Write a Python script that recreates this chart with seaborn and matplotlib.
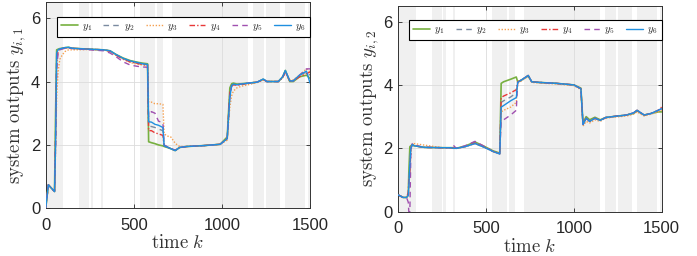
import matplotlib
matplotlib.use('Agg')
import matplotlib.pyplot as plt
import seaborn as sns

# time grid (k) for left panel, y_{i,1}
K1 = [0, 15, 50, 56, 62, 70, 80, 95, 110, 130, 150, 250, 330, 365, 400, 440, 480, 520, 550, 578,
      584, 600, 620, 640, 665, 672, 690, 710, 735, 760, 800, 900, 990, 1030, 1045, 1055, 1065,
      1085, 1110, 1150, 1200, 1235, 1255, 1320, 1345, 1360, 1385, 1405, 1440, 1480, 1500]

Y1_1 = [0, 0.74, 0.53, 3.0, 5.0, 5.02, 5.04, 5.05, 5.07, 5.08, 5.05, 5.02, 5.0, 4.97, 4.85, 4.74, 4.66, 4.61, 4.58, 4.56,
        2.1, 2.07, 2.04, 2.0, 1.97, 1.95, 1.92, 1.88, 1.82, 1.92, 1.95, 1.98, 2.02, 2.25, 3.8, 3.93, 3.95,
        3.92, 3.93, 3.95, 3.98, 4.07, 4.0, 4.0, 4.15, 4.35, 4.0, 4.0, 4.15, 4.2, 4.1]
Y2_1 = [0, 0.74, 0.53, 2.4, 4.8, 5.0, 5.03, 5.05, 5.06, 5.07, 5.05, 5.02, 5.0, 4.96, 4.84, 4.72, 4.63, 4.58, 4.55, 4.53,
        2.6, 2.58, 2.55, 2.5, 2.45, 1.99, 1.94, 1.89, 1.83, 1.92, 1.95, 1.98, 2.02, 2.2, 3.6, 3.85, 3.9,
        3.9, 3.92, 3.95, 3.98, 4.08, 4.0, 4.0, 4.15, 4.33, 4.02, 4.02, 4.2, 4.3, 4.2]
Y3_1 = [0, 0.74, 0.53, 1.8, 3.5, 4.3, 4.7, 4.85, 4.95, 5.0, 5.0, 5.01, 4.99, 4.95, 4.82, 4.7, 4.6, 4.55, 4.52, 4.5,
        3.35, 3.35, 3.3, 3.3, 3.28, 2.35, 2.28, 2.25, 2.05, 1.95, 1.95, 1.98, 2.02, 2.15, 3.2, 3.55, 3.7,
        3.8, 3.85, 3.9, 3.97, 4.05, 4.02, 4.0, 4.12, 4.3, 4.05, 4.05, 4.2, 4.4, 4.3]
Y4_1 = [0, 0.74, 0.53, 2.2, 4.6, 4.95, 5.02, 5.04, 5.06, 5.07, 5.05, 5.02, 5.0, 4.96, 4.83, 4.71, 4.62, 4.57, 4.54, 4.52,
        2.45, 2.45, 2.38, 2.35, 2.3, 1.98, 1.93, 1.88, 1.83, 1.92, 1.95, 1.98, 2.02, 2.2, 3.65, 3.88, 3.9,
        3.88, 3.9, 3.95, 3.98, 4.06, 4.0, 4.0, 4.12, 4.3, 4.02, 4.02, 4.15, 4.25, 4.3]
Y5_1 = [0, 0.74, 0.53, 2.0, 4.4, 4.9, 5.0, 5.03, 5.05, 5.06, 5.04, 5.0, 4.97, 4.9, 4.78, 4.62, 4.52, 4.48, 4.46, 4.45,
        2.9, 3.05, 3.0, 2.75, 2.7, 2.0, 1.94, 1.89, 1.83, 1.92, 1.95, 1.98, 2.02, 2.2, 3.55, 3.85, 3.9,
        3.9, 3.92, 3.95, 3.98, 4.07, 4.0, 4.0, 4.15, 4.33, 4.02, 4.02, 4.2, 4.4, 4.4]
Y6_1 = [0, 0.74, 0.53, 2.0, 4.9, 5.0, 5.03, 5.05, 5.07, 5.08, 5.05, 5.02, 5.0, 4.97, 4.85, 4.73, 4.65, 4.6, 4.56, 4.54,
        2.73, 2.72, 2.65, 2.62, 2.55, 1.97, 1.93, 1.88, 1.82, 1.92, 1.95, 1.98, 2.02, 2.2, 3.5, 3.88, 3.92,
        3.9, 3.92, 3.95, 3.98, 4.08, 4.0, 4.0, 4.15, 4.35, 4.02, 4.02, 4.2, 4.33, 3.95]

# time grid (k) for right panel, y_{i,2}
K2 = [0, 10, 28, 47, 57, 60, 66, 72, 80, 90, 150, 250, 300, 313, 330, 380, 437, 494, 540, 578,
      586, 600, 640, 672, 680, 700, 740, 760, 800, 900, 1000, 1040, 1052, 1070, 1090, 1120, 1150,
      1180, 1220, 1300, 1340, 1360, 1400, 1440, 1480, 1500]

Y1_2 = [0.53, 0.5, 0.45, 0.45, 0.52, 1.2, 2.05, 2.08, 2.12, 2.08, 2.03, 2.02, 2.02, 2.02, 2.0, 2.07, 2.2, 2.05, 1.92, 1.85,
        4.05, 4.1, 4.18, 4.25, 4.1, 4.15, 4.28, 4.1, 4.08, 4.05, 4.0, 3.9, 2.8, 3.0, 2.9, 2.98, 2.9,
        2.97, 3.0, 3.05, 3.1, 3.18, 3.05, 3.1, 3.15, 3.15]
Y2_2 = [0.53, 0.5, 0.45, 0.45, 0.52, 0.9, 1.6, 2.02, 2.12, 2.08, 2.03, 2.02, 2.02, 2.0, 2.0, 2.05, 2.17, 2.03, 1.9, 1.83,
        3.45, 3.5, 3.62, 3.75, 4.08, 4.15, 4.3, 4.1, 4.08, 4.05, 4.0, 3.88, 2.75, 2.95, 2.85, 2.95, 2.88,
        2.97, 3.0, 3.05, 3.12, 3.2, 3.05, 3.1, 3.2, 3.25]
Y3_2 = [0.53, 0.5, 0.45, 0.45, 0.52, 0.7, 1.3, 1.95, 2.1, 2.15, 2.1, 2.02, 2.02, 2.0, 2.0, 2.05, 2.15, 2.02, 1.9, 1.83,
        3.15, 3.2, 3.3, 3.45, 4.05, 4.12, 4.28, 4.08, 4.06, 4.03, 3.98, 3.85, 2.7, 2.85, 2.8, 2.9, 2.85,
        2.95, 2.98, 3.02, 3.08, 3.15, 3.02, 3.08, 3.15, 3.2]
Y4_2 = [0.53, 0.5, 0.45, 0.45, 0.6, 1.0, 1.2, 2.0, 2.12, 2.08, 2.03, 2.02, 2.02, 2.0, 2.0, 2.05, 2.16, 2.03, 1.9, 1.83,
        3.6, 3.65, 3.75, 3.85, 4.1, 4.15, 4.3, 4.1, 4.08, 4.05, 4.0, 3.88, 2.75, 2.95, 2.85, 2.95, 2.88,
        2.97, 3.0, 3.05, 3.12, 3.2, 3.05, 3.1, 3.2, 3.3]
Y5_2 = [0.53, 0.5, 0.45, 0.45, 0.3, 0.0, 0.0, 2.0, 2.15, 2.1, 2.03, 2.02, 2.02, 2.1, 2.0, 2.08, 2.22, 2.05, 1.9, 1.83,
        2.85, 2.9, 3.05, 3.2, 4.08, 4.15, 4.3, 4.1, 4.08, 4.05, 4.0, 3.88, 2.75, 2.95, 2.85, 2.95, 2.88,
        2.97, 3.0, 3.05, 3.12, 3.2, 3.05, 3.1, 3.2, 3.25]
Y6_2 = [0.53, 0.5, 0.45, 0.45, 0.52, 0.8, 1.5, 2.0, 2.12, 2.08, 2.03, 2.02, 2.02, 2.0, 2.0, 2.05, 2.15, 2.02, 1.9, 1.82,
        3.3, 3.35, 3.5, 3.6, 4.08, 4.15, 4.3, 4.1, 4.08, 4.05, 4.0, 3.88, 2.75, 2.95, 2.85, 2.95, 2.88,
        2.97, 3.0, 3.05, 3.12, 3.2, 3.05, 3.1, 3.2, 3.25]

# white (non-triggered) intervals, the rest is shaded
WHITE_START = [100, 248, 270, 324, 620, 667, 1146, 1241, 1330, 1472]
WHITE_END = [191, 255, 314, 535, 633, 715, 1178, 1249, 1358, 1490]

NAMES = ["$y_1$", "$y_2$", "$y_3$", "$y_4$", "$y_5$", "$y_6$"]
COLORS = ["#77b040", "#7a8aa0", "#f5a050", "#e83838", "#a050b0", "#1f8fe0"]
STYLES = ["-", (0, (4, 3)), (0, (1, 1.2)), (0, (4, 1.5, 1, 1.5)), (0, (4, 3)), "-"]
WIDTHS = [1.2, 1.0, 1.0, 1.0, 1.0, 1.0]

sns.set_style("ticks")
plt.rcParams['font.family'] = ['Liberation Sans', 'DejaVu Sans']
plt.rcParams['mathtext.fontset'] = 'cm'

fig = plt.figure(figsize=(6.97, 2.56), dpi=100)
ax1 = fig.add_axes([0.0656, 0.1863, 0.3792, 0.8047])
ax2 = fig.add_axes([0.5714, 0.1730, 0.3779, 0.8047])

panels = [
    (ax1, K1, [Y1_1, Y2_1, Y3_1, Y4_1, Y5_1, Y6_1], r"$\mathrm{system\ outputs}\ y_{i,1}$"),
    (ax2, K2, [Y1_2, Y2_2, Y3_2, Y4_2, Y5_2, Y6_2], r"$\mathrm{system\ outputs}\ y_{i,2}$"),
]

for ax, K, series, ylab in panels:
    ax.set_facecolor("#f0f0f0")
    for a, b in zip(WHITE_START, WHITE_END):
        ax.axvspan(a, b, color="white", lw=0, zorder=0.2)
    for vals, name, c, ls, lw in zip(series, NAMES, COLORS, STYLES, WIDTHS):
        sns.lineplot(x=K, y=vals, ax=ax, color=c, linestyle=ls, linewidth=lw, label=name, zorder=3)
    ax.set_xlim(0, 1500)
    ax.set_ylim(0, 6.5)
    ax.set_xticks([0, 500, 1000, 1500])
    ax.set_yticks([0, 2, 4, 6])
    ax.grid(True, color="#dcdcdc", lw=0.6, zorder=0.5)
    ax.set_axisbelow(True)
    ax.tick_params(direction="in", length=3, width=0.6, top=True, right=True,
                   labelsize=12, colors="#262626", pad=4)
    ax.tick_params(axis="x", pad=7)
    for s in ax.spines.values():
        s.set_color("#333333")
        s.set_linewidth(0.7)
    ax.set_xlabel(r"$\mathrm{time}\ k$", fontsize=13.5, labelpad=1, color="#333333")
    ax.set_ylabel(ylab, fontsize=13.5, labelpad=2, color="#333333")
    leg = ax.legend(ncol=6, loc="upper center", bbox_to_anchor=(0.52, 0.94), fontsize=7.5,
                    frameon=True, fancybox=False, framealpha=1, edgecolor="black",
                    handlelength=1.6, columnspacing=1.1, handletextpad=0.4,
                    borderpad=0.4, borderaxespad=0.2)
    leg.get_frame().set_linewidth(0.8)

fig.savefig("out.png", dpi=100)
